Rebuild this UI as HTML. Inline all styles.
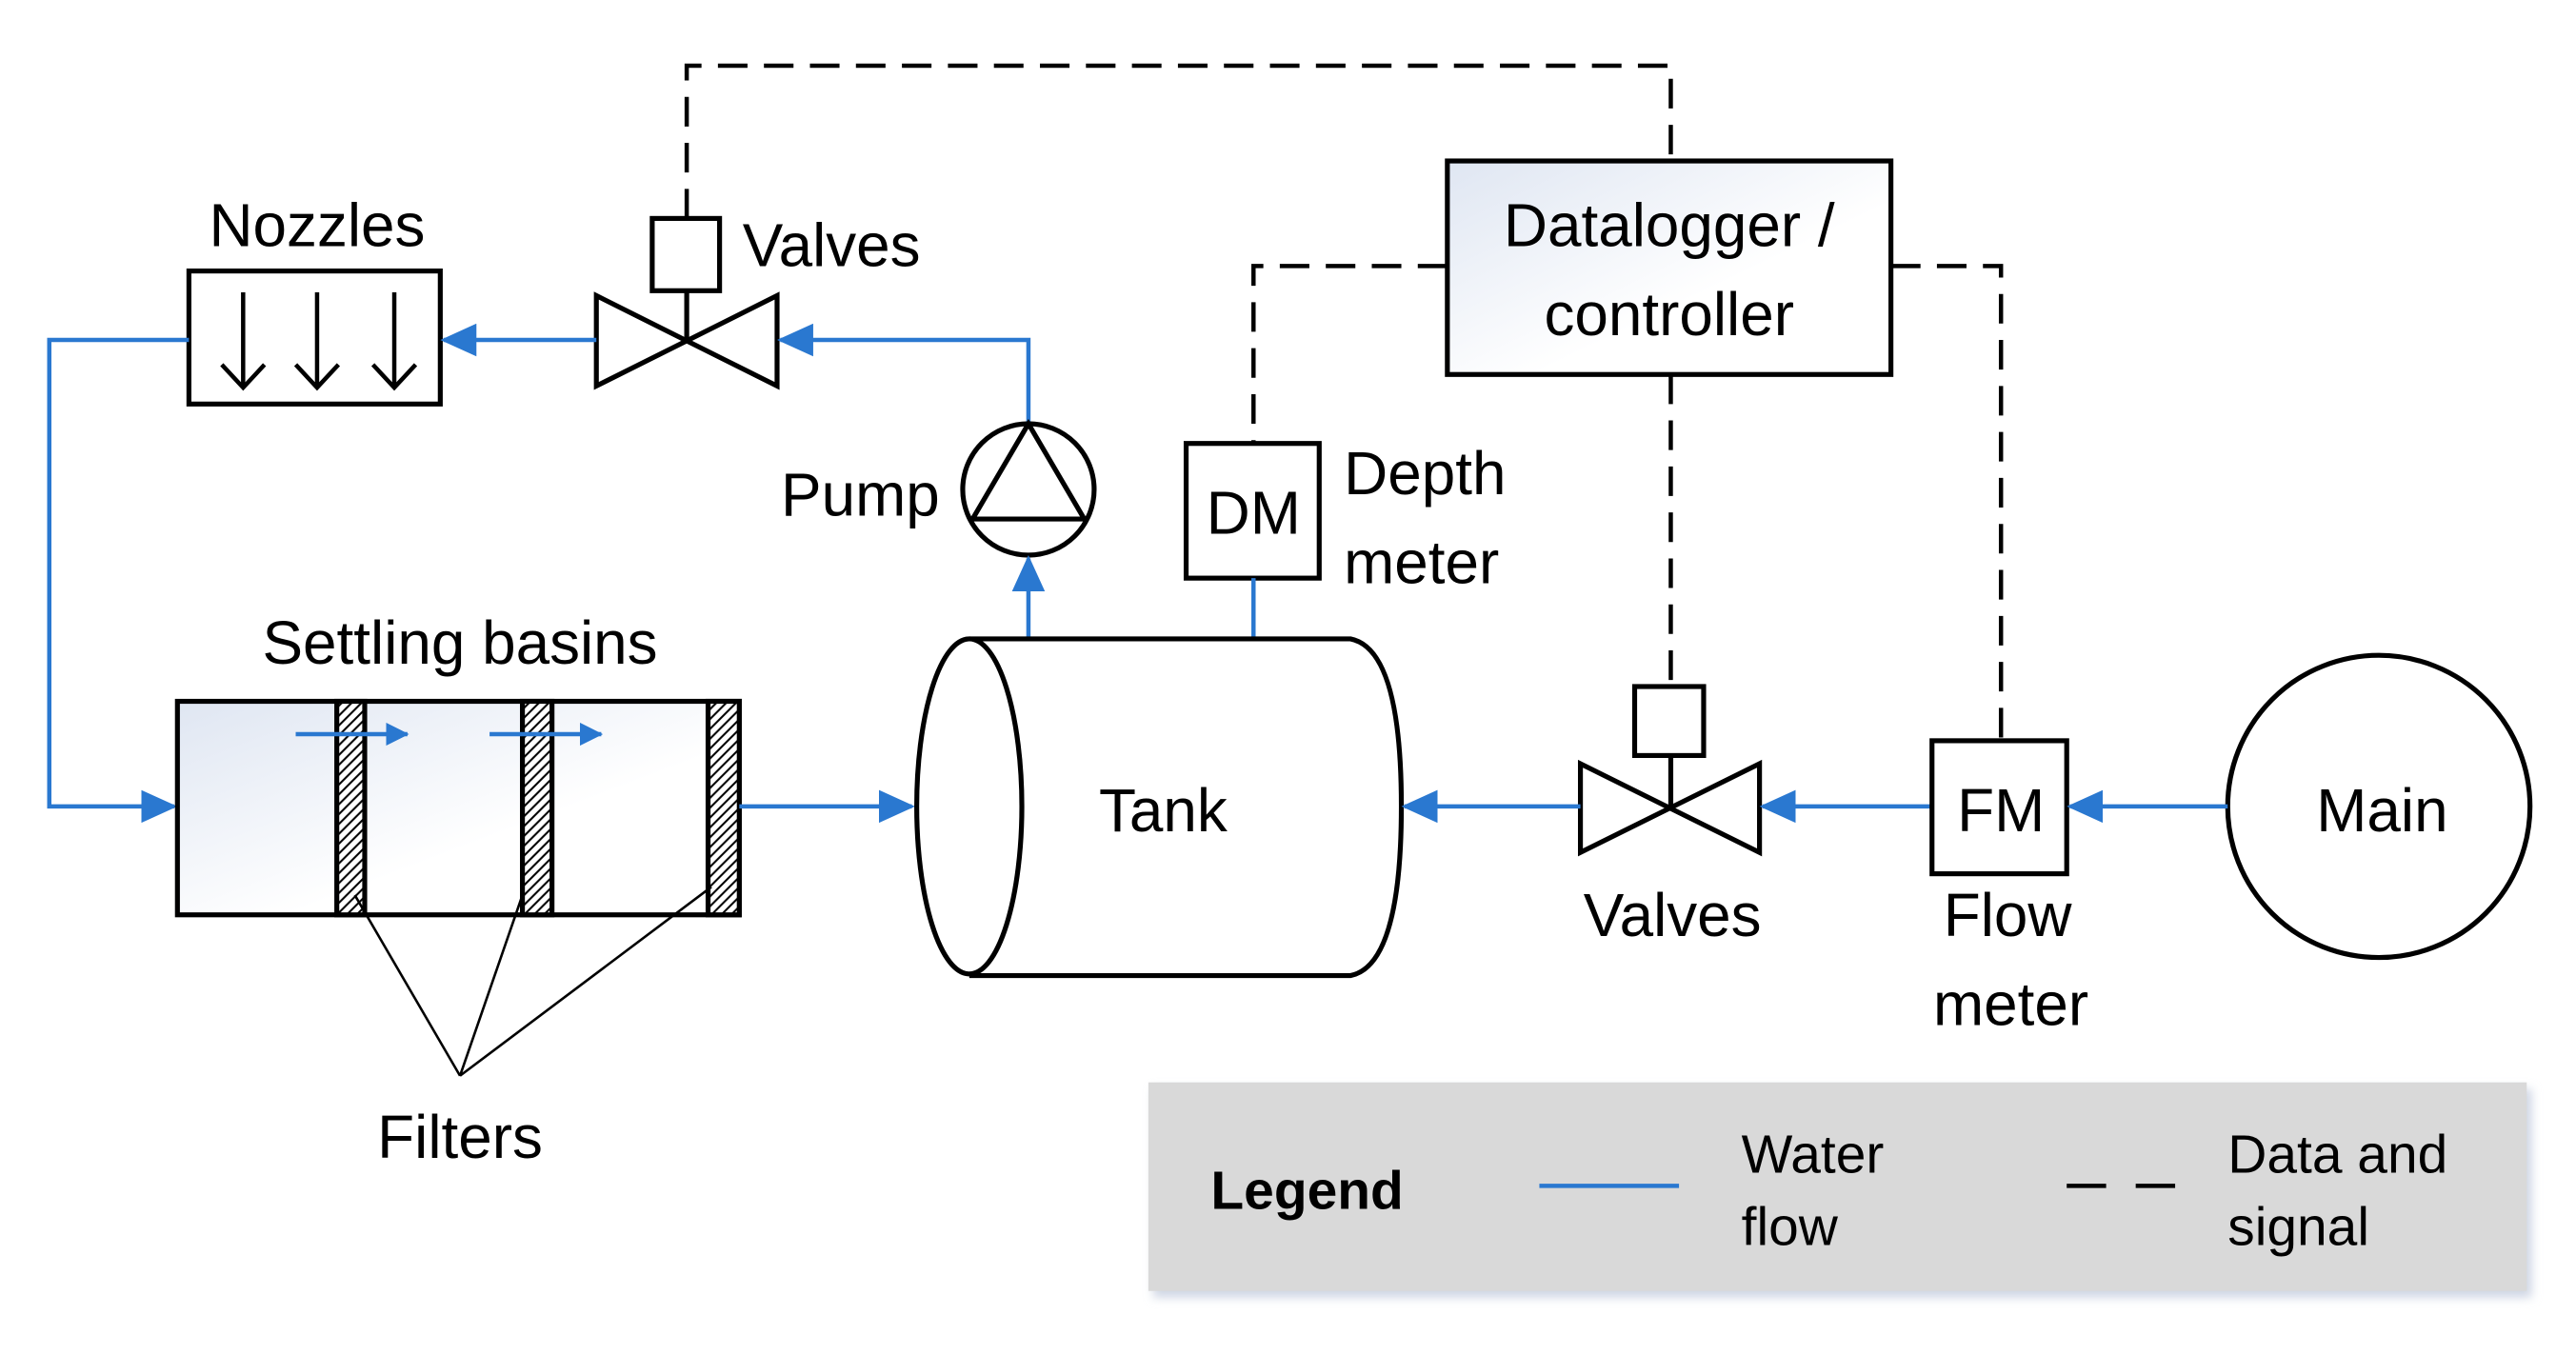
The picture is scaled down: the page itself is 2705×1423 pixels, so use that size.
<!DOCTYPE html>
<html><head><meta charset="utf-8"><style>
html,body{margin:0;padding:0;background:#fff;}
svg{display:block;}
text{font-family:"Liberation Sans",sans-serif;fill:#000;}
</style></head><body>
<svg width="2705" height="1423" viewBox="0 0 1568 825" preserveAspectRatio="none" xmlns="http://www.w3.org/2000/svg">
<defs>
<marker id="ar" markerWidth="22" markerHeight="20" refX="20" refY="10" orient="auto" markerUnits="userSpaceOnUse" viewBox="0 0 22 20">
<path d="M0,0 L22,10 L0,20 z" fill="#2a78d0"/></marker>
<marker id="ars" markerWidth="14" markerHeight="14" refX="13" refY="7" orient="auto" markerUnits="userSpaceOnUse" viewBox="0 0 14 14">
<path d="M0,0 L14,7 L0,14 z" fill="#2a78d0"/></marker>
<pattern id="hatch" width="6" height="6" patternUnits="userSpaceOnUse">
<rect width="6" height="6" fill="#fff"/><path d="M-1,1 L1,-1 M0,6 L6,0 M5,7 L7,5" stroke="#000" stroke-width="1.2"/></pattern>
<linearGradient id="bg" x1="0" y1="0" x2="1" y2="1"><stop offset="0" stop-color="#dfe6f2"/><stop offset="0.6" stop-color="#fff"/></linearGradient>
<filter id="sh" x="-5%" y="-10%" width="110%" height="130%"><feGaussianBlur stdDeviation="3"/></filter>
</defs>
<style>
.bl{stroke:#2a78d0;stroke-width:2.6;fill:none}
.k{stroke:#000;stroke-width:3}
.d{stroke:#000;stroke-width:2.6;fill:none;stroke-dasharray:18 10}
.t{font-size:37px}
</style>
<polyline class="d" points="418,133 418,40 1017,40 1017,98"/>
<polyline class="d" points="881,162 763,162 763,270"/>
<polyline class="d" points="1151,162 1218,162 1218,451"/>
<line class="d" x1="1017" y1="228" x2="1017" y2="418"/>
<rect x="881" y="98" width="270" height="130" style="fill:url(#bg)" class="k"/>
<text class="t" x="1016" y="150" text-anchor="middle" font-size="38">Datalogger /</text>
<text class="t" x="1016" y="204" text-anchor="middle" font-size="38">controller</text>
<rect x="115" y="165" width="153" height="81" style="fill:#fff" class="k"/>
<text class="t" x="193" y="150" text-anchor="middle">Nozzles</text>
<g stroke="#000" stroke-width="2.6" fill="none">
<path d="M148,178 V236 M135,222 L148,236 L161,222"/>
<path d="M193,178 V236 M180,222 L193,236 L206,222"/>
<path d="M240,178 V236 M227,222 L240,236 L253,222"/>
</g>
<rect x="397" y="133" width="41" height="44" class="k" style="fill:#fff"/>
<line x1="418" y1="177" x2="418" y2="207" class="k"/>
<path d="M363,180 L473,235 L473,180 L363,235 Z" class="k" style="fill:#fff"/>
<text class="t" x="452" y="162">Valves</text>
<polyline class="bl" points="626,257 626,207 475,207" marker-end="url(#ar)"/>
<line class="bl" x1="363" y1="207" x2="270" y2="207" marker-end="url(#ar)"/>
<polyline class="bl" points="115,207 30,207 30,491 106,491" marker-end="url(#ar)"/>
<circle cx="626" cy="298" r="40" class="k" style="fill:#fff"/>
<path d="M626,258 L660,316 L592,316 Z" class="k" style="fill:none"/>
<text class="t" x="572" y="314" text-anchor="end">Pump</text>
<line class="bl" x1="626" y1="390" x2="626" y2="340" marker-end="url(#ar)"/>
<rect x="722" y="270" width="81" height="82" class="k" style="fill:#fff"/>
<text class="t" x="763" y="325" text-anchor="middle">DM</text>
<line class="bl" x1="763" y1="352" x2="763" y2="390"/>
<text class="t" x="818" y="301">Depth</text>
<text class="t" x="818" y="355">meter</text>
<rect x="108" y="427" width="342" height="130" style="fill:url(#bg)" class="k"/>
<rect x="205" y="427" width="17" height="130" style="fill:url(#hatch)" class="k"/>
<rect x="318" y="427" width="18" height="130" style="fill:url(#hatch)" class="k"/>
<rect x="431" y="427" width="19" height="130" style="fill:url(#hatch)" class="k"/>
<line class="bl" x1="180" y1="447" x2="248" y2="447" marker-end="url(#ars)"/>
<line class="bl" x1="298" y1="447" x2="366" y2="447" marker-end="url(#ars)"/>
<text class="t" x="280" y="404" text-anchor="middle">Settling basins</text>
<g stroke="#000" stroke-width="1.5"><line x1="280" y1="655" x2="216" y2="545"/><line x1="280" y1="655" x2="318" y2="545"/><line x1="280" y1="655" x2="433" y2="540"/></g>
<text class="t" x="280" y="705" text-anchor="middle">Filters</text>
<line class="bl" x1="450" y1="491" x2="555" y2="491" marker-end="url(#ar)"/>
<path d="M590,389 L822,389 Q853,395 853,491 Q853,588 822,594 L590,594" class="k" style="fill:#fff"/>
<ellipse cx="590" cy="491" rx="32" ry="102" class="k" style="fill:#fff"/>
<text class="t" x="708" y="506" text-anchor="middle">Tank</text>
<rect x="995" y="418" width="42" height="42" class="k" style="fill:#fff"/>
<line x1="1017" y1="460" x2="1017" y2="491" class="k"/>
<path d="M962,465 L1071,519 L1071,465 L962,519 Z" class="k" style="fill:#fff"/>
<text class="t" x="1018" y="570" text-anchor="middle">Valves</text>
<line class="bl" x1="962" y1="491" x2="855" y2="491" marker-end="url(#ar)"/>
<line class="bl" x1="1176" y1="491" x2="1073" y2="491" marker-end="url(#ar)"/>
<rect x="1176" y="451" width="82" height="81" class="k" style="fill:#fff"/>
<text class="t" x="1218" y="506" text-anchor="middle">FM</text>
<text class="t" x="1222" y="570" text-anchor="middle">Flow</text>
<text class="t" x="1224" y="624" text-anchor="middle">meter</text>
<circle cx="1448" cy="491" r="92" class="k" style="fill:#fff"/>
<text class="t" x="1450" y="506" text-anchor="middle">Main</text>
<line class="bl" x1="1356" y1="491" x2="1260" y2="491" marker-end="url(#ar)"/>
<rect x="702" y="663" width="839" height="127" fill="#cfd6e4" filter="url(#sh)"/>
<rect x="699" y="659" width="839" height="127" fill="#d9d9d9"/>
<text x="737" y="736" font-size="33" font-weight="bold">Legend</text>
<line class="bl" x1="937" y1="722" x2="1022" y2="722"/>
<text x="1060" y="714" font-size="33">Water</text>
<text x="1060" y="758" font-size="33">flow</text>
<line x1="1258" y1="722" x2="1332" y2="722" stroke="#000" stroke-width="2.6" stroke-dasharray="24 18"/>
<text x="1356" y="714" font-size="33">Data and</text>
<text x="1356" y="758" font-size="33">signal</text>
</svg>
</body></html>
